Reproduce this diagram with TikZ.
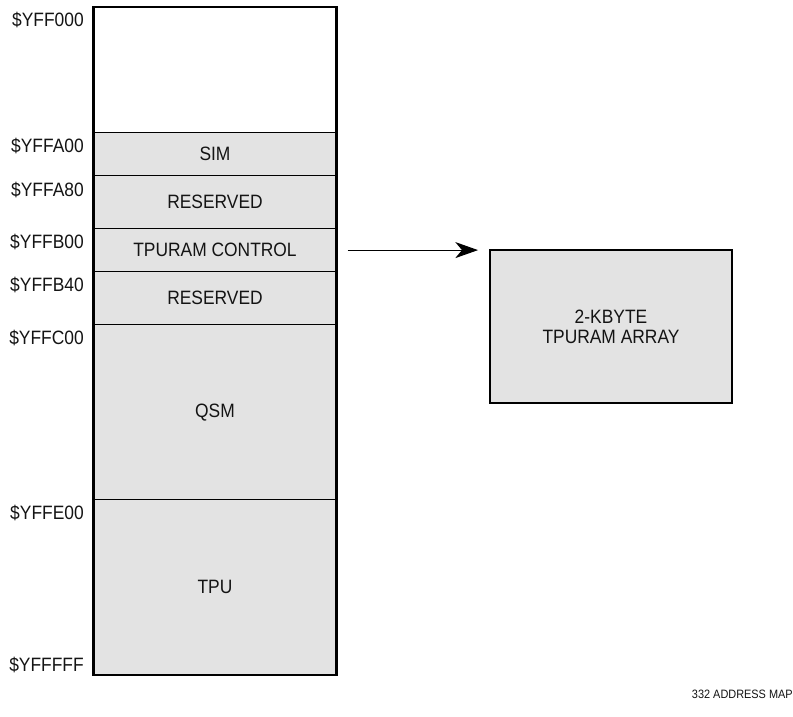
\documentclass[tikz,border=0pt]{standalone}
\usepackage{fontspec}
\setmainfont{Liberation Sans}[FakeStretch=0.9]
\usetikzlibrary{arrows.meta}
\definecolor{boxgray}{RGB}{227,227,227}
\definecolor{ink}{RGB}{20,20,20}
\begin{document}
\begin{tikzpicture}[x=0.75pt,y=-0.75pt,
  every node/.style={font=\fontsize{14.5pt}{15pt}\selectfont, text=ink},
  rowbox/.style={draw=black, line width=0.9pt, fill=boxgray, minimum width=181.5pt, inner sep=0pt, anchor=north},
  addr/.style={anchor=base east, inner sep=0pt},
  arraybox/.style={draw=black, line width=1.5pt, fill=boxgray, minimum width=181.5pt, minimum height=114.75pt, inner sep=0pt, align=center, anchor=north west},
  link/.style={line width=0.75pt, -{Stealth[length=17pt, width=12pt, inset=5pt]}}
]
\useasboundingbox (0,0) rectangle (793,717);
% rows of the address map (px units)
\node[rowbox, fill=white, minimum height=93.75pt] (free) at (215,7) {};
\node[rowbox, minimum height=32.25pt] (sim)  at (215,132) {SIM};
\node[rowbox, minimum height=39.75pt] (res1) at (215,175) {RESERVED};
\node[rowbox, minimum height=32.25pt] (ctrl) at (215,228) {TPURAM CONTROL};
\node[rowbox, minimum height=39.75pt] (res2) at (215,271) {RESERVED};
\node[rowbox, minimum height=131.25pt] (qsm) at (215,324) {QSM};
\node[rowbox, minimum height=131.25pt] (tpu) at (215,499) {TPU};
\draw[line width=1.5pt] (free.north west) rectangle (tpu.south east);
% addresses
\node[addr] (a0) at (84,27)  {\$YFF000};
\node[addr] (a1) at (84,152) {\$YFFA00};
\node[addr] (a2) at (84,196) {\$YFFA80};
\node[addr] (a3) at (84,248) {\$YFFB00};
\node[addr] (a4) at (84,291) {\$YFFB40};
\node[addr] (a5) at (84,344) {\$YFFC00};
\node[addr] (a6) at (84,519) {\$YFFE00};
\node[addr] (a7) at (84,671) {\$YFFFFF};
% TPURAM array
\node[arraybox] (array) at (489,249) {\fontsize{14.5pt}{15pt}\selectfont 2-KBYTE\\TPURAM ARRAY};
\draw[link] ([xshift=8.25pt]ctrl.east) -- ([xshift=-8.25pt]ctrl.east -| array.west);
% caption
\node[anchor=base east, inner sep=0pt, font=\fontsize{9.1pt}{10pt}\selectfont] (cap) at (793,698) {332 ADDRESS MAP};
\end{tikzpicture}
\end{document}
